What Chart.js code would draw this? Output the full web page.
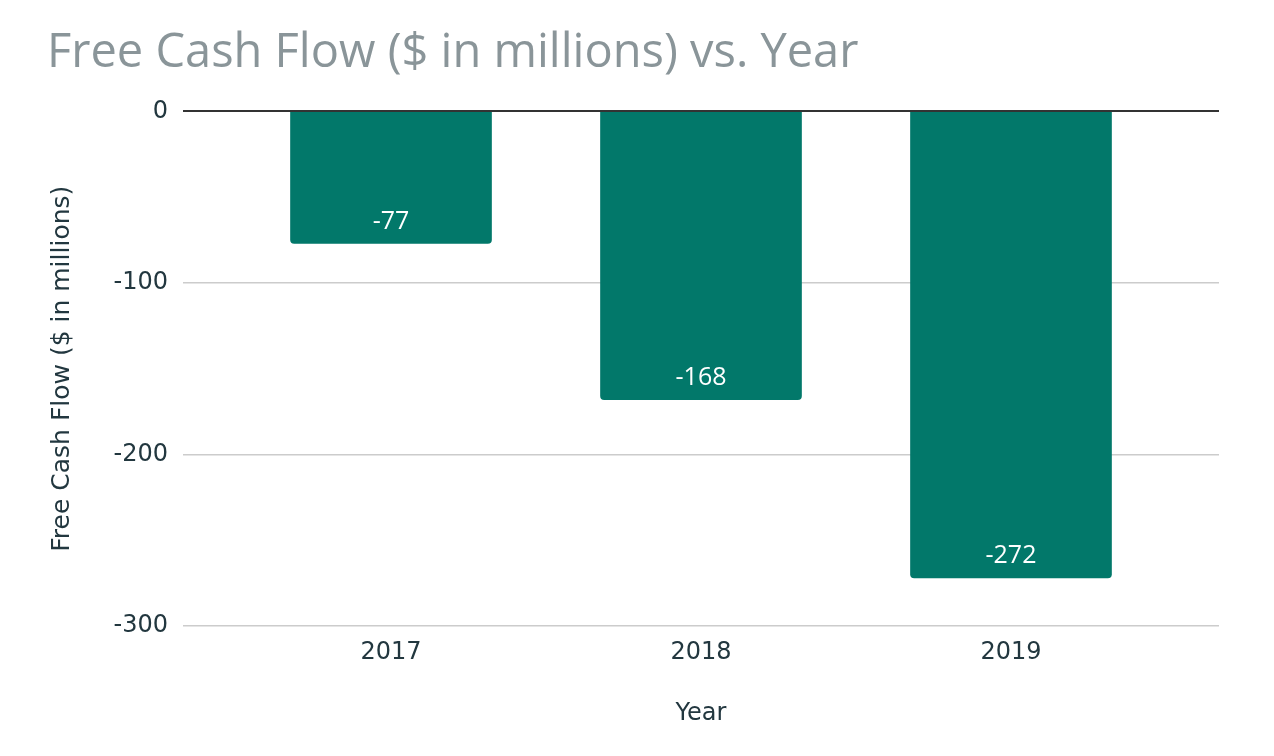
<!DOCTYPE html>
<html>
<head>
<meta charset="utf-8">
<script src="https://cdn.jsdelivr.net/npm/chart.js@4"></script>
<style>
  html, body { margin: 0; padding: 0; background: #fff; }
  #wrap { width: 1274px; height: 756px; }
</style>
</head>
<body>
<div id="wrap"><canvas id="fcfChart"></canvas></div>
<script>
const years = [2017, 2018, 2019];
const freeCashFlow = [-77, -168, -272];
const yTicks = [0, -100, -200, -300];

const axisColor = '#22373f';

// white value labels near the end of each bar
const barLabels = {
  id: 'barLabels',
  afterDatasetsDraw(chart) {
    const ctx = chart.ctx;
    const meta = chart.getDatasetMeta(0);
    ctx.save();
    ctx.fillStyle = '#ffffff';
    ctx.font = '25px "Open Sans"';
    ctx.textAlign = 'center';
    ctx.textBaseline = 'middle';
    meta.data.forEach((bar, i) => {
      ctx.fillText(String(freeCashFlow[i]), bar.x, bar.y - 22);
    });
    ctx.restore();
  }
};

new Chart(document.getElementById('fcfChart'), {
  type: 'bar',
  data: {
    datasets: [
      {
        label: 'Free Cash Flow ($ in millions)',
        data: years.map((yr, i) => ({ x: yr, y: freeCashFlow[i] })),
        backgroundColor: '#02786a',
        barThickness: 201,
        borderRadius: 4,
        borderSkipped: 'start'
      }
    ]
  },
  options: {
    responsive: true,
    maintainAspectRatio: false,
    animation: false,
    layout: {
      padding: { left: 47, right: 55, top: 0, bottom: 20 }
    },
    plugins: {
      legend: { display: false },
      tooltip: { enabled: false },
      title: {
        display: true,
        text: 'Free Cash Flow ($ in millions) vs. Year',
        align: 'start',
        color: '#8a9599',
        font: { family: '"Open Sans"', size: 47, weight: 'normal' },
        padding: { top: 25, bottom: 30 }
      }
    },
    scales: {
      x: {
        type: 'linear',
        offset: false,
        min: 2016.329,
        max: 2019.671,
        afterBuildTicks(scale) {
          scale.ticks = years.map(v => ({ value: v }));
        },
        afterFit(scale) {
          scale.height = 110;
        },
        grid: { display: false },
        border: { display: false },
        ticks: {
          color: axisColor,
          font: { family: '"DejaVu Sans"', size: 24 },
          padding: 4,
          callback: v => String(v)
        },
        title: {
          display: true,
          text: 'Year',
          color: axisColor,
          font: { family: '"DejaVu Sans"', size: 24 },
          padding: { top: 0, bottom: 8 }
        }
      },
      y: {
        min: -300,
        max: 0,
        afterBuildTicks(scale) {
          scale.ticks = yTicks.map(v => ({ value: v }));
        },
        afterFit(scale) {
          scale.width = 136;
        },
        grid: {
          drawTicks: false,
          color: ctx => (ctx.tick && ctx.tick.value === 0 ? '#333333' : '#cccccc'),
          lineWidth: ctx => (ctx.tick && ctx.tick.value === 0 ? 2 : 1.5)
        },
        border: { display: false },
        ticks: {
          color: axisColor,
          font: { family: '"DejaVu Sans"', size: 24 },
          padding: 15
        },
        title: {
          display: true,
          text: 'Free Cash Flow ($ in millions)',
          color: axisColor,
          font: { family: '"DejaVu Sans"', size: 25 },
          padding: { top: 0, bottom: 0 }
        }
      }
    }
  },
  plugins: [barLabels]
});
</script>
</body>
</html>
